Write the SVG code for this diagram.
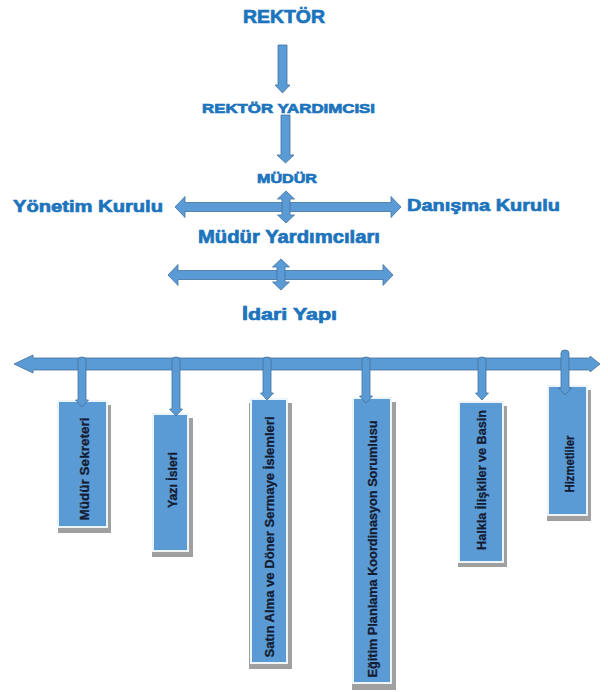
<svg xmlns="http://www.w3.org/2000/svg" width="608" height="692" viewBox="0 0 608 692">
<style>
.t{font-family:"Liberation Sans",Arial,sans-serif;font-weight:bold;fill:#1c74bd;stroke:#1c74bd;stroke-width:0.7}
.b{font-family:"Liberation Sans",Arial,sans-serif;font-weight:bold;fill:#141c33;stroke:#141c33;stroke-width:0.3;font-size:12.5px}
.ar{fill:#5b9bd5;stroke:#41719c;stroke-width:0.8}
.box{fill:#5b9bd5;stroke:#eef4fb;stroke-width:2}
.sh{fill:#a0a0a0}
</style>
<rect width="608" height="692" fill="#ffffff"/>
<g id="rektor"><text class="t" x="243" y="23" font-size="18" textLength="82" lengthAdjust="spacingAndGlyphs">REKTÖR</text></g>
<g id="rektor-yardimcisi"><text class="t" x="202" y="113" font-size="13" textLength="173" lengthAdjust="spacingAndGlyphs">REKTÖR YARDIMCISI</text></g>
<g id="mudur"><text class="t" x="257" y="183" font-size="13" textLength="60" lengthAdjust="spacingAndGlyphs">MÜDÜR</text></g>
<g id="yonetim-kurulu"><text class="t" x="13" y="212" font-size="17" textLength="150" lengthAdjust="spacingAndGlyphs">Yönetim Kurulu</text></g>
<g id="danisma-kurulu"><text class="t" x="407" y="211" font-size="17" textLength="153" lengthAdjust="spacingAndGlyphs">Danışma Kurulu</text></g>
<g id="mudur-yardimcilari"><text class="t" x="198" y="243" font-size="18" textLength="182" lengthAdjust="spacingAndGlyphs">Müdür Yardımcıları</text></g>
<g id="idari-yapi"><text class="t" x="242" y="320" font-size="17" textLength="95" lengthAdjust="spacingAndGlyphs">İdari Yapı</text></g>

<g id="mudur-sekreteri">
<rect class="sh" x="58" y="405" width="53" height="128"/>
<rect class="box" x="58" y="401" width="49" height="126"/>
<text class="b" transform="translate(85,469) rotate(-90)" text-anchor="middle" dominant-baseline="central" textLength="103" lengthAdjust="spacingAndGlyphs">Müdür Sekreteri</text>
</g>
<g id="yazi-isleri">
<rect class="sh" x="152" y="418" width="41" height="139"/>
<rect class="box" x="153" y="414" width="35" height="137"/>
<text class="b" transform="translate(173,480) rotate(-90)" text-anchor="middle" dominant-baseline="central" textLength="56" lengthAdjust="spacingAndGlyphs">Yazı İsleri</text>
</g>
<g id="satin-alma">
<rect class="sh" x="249" y="403" width="43" height="266"/>
<rect class="box" x="251" y="399" width="36" height="264"/>
<text class="b" transform="translate(270,537) rotate(-90)" text-anchor="middle" dominant-baseline="central" textLength="241" lengthAdjust="spacingAndGlyphs">Satın Alma ve Döner Sermaye İslemleri</text>
</g>
<g id="egitim-planlama">
<rect class="sh" x="352" y="402" width="44" height="288"/>
<rect class="box" x="353" y="398" width="38" height="285"/>
<text class="b" transform="translate(373,549) rotate(-90)" text-anchor="middle" dominant-baseline="central" textLength="257" lengthAdjust="spacingAndGlyphs">Eğitim Planlama Koordinasyon Sorumlusu</text>
</g>
<g id="halkla-iliskiler">
<rect class="sh" x="458" y="406" width="49" height="161"/>
<rect class="box" x="459" y="402" width="44" height="160"/>
<text class="b" transform="translate(482,480) rotate(-90)" text-anchor="middle" dominant-baseline="central" textLength="140" lengthAdjust="spacingAndGlyphs">Halkla İlişkiler ve Basin</text>
</g>
<g id="hizmetliler">
<rect class="sh" x="547" y="390" width="44" height="131"/>
<rect class="box" x="548" y="386" width="39" height="129"/>
<text class="b" transform="translate(570,464) rotate(-90)" text-anchor="middle" dominant-baseline="central" textLength="57" lengthAdjust="spacingAndGlyphs">Hizmetliler</text>
</g>

<g id="connectors">
<polygon class="ar" points="278,45 287,45 287,85 290,85 282.5,93 275,85 278,85"/>
<polygon class="ar" points="281,115 290,115 290,155 294,155 285.5,163 277,155 281,155"/>
<polygon class="ar" points="175,207 185,196.5 185,202.5 391,202.5 391,196.5 401,207 391,217.5 391,211.5 185,211.5 185,217.5"/>
<polygon class="ar" points="286,191 294.5,199 290,199 290,215 294.5,215 286,223 277.5,215 282,215 282,199 277.5,199"/>
<polygon class="ar" points="168,275 178,264.5 178,270.5 383,270.5 383,264.5 393,275 383,285.5 383,279.5 178,279.5 178,285.5"/>
<polygon class="ar" points="281,259 289.5,267 285,267 285,282 289.5,282 281,290 272.5,282 277,282 277,267 272.5,267"/>
<polygon class="ar" points="14,364 33,355 33,358 590,358 590,356 600,364 590,372 590,370 33,370 33,373"/>
<path class="ar" d="M78,360 a4,3 0 0 1 8,0 V400 H88.5 L82,407 L75.5,400 H78 Z"/>
<path class="ar" d="M172,360 a4,3 0 0 1 8,0 V409 H182.5 L176,416 L169.5,409 H172 Z"/>
<path class="ar" d="M263,360 a4,3 0 0 1 8,0 V393 H273.5 L267,400 L260.5,393 H263 Z"/>
<path class="ar" d="M362,360 a4,3 0 0 1 8,0 V396 H372.5 L366,403 L359.5,396 H362 Z"/>
<path class="ar" d="M478,360 a4,3 0 0 1 8,0 V393 H488.5 L482,400 L475.5,393 H478 Z"/>
<path class="ar" d="M561,353 a4,3 0 0 1 8,0 V388 H571.5 L565,395 L558.5,388 H561 Z"/>
</g>
</svg>
